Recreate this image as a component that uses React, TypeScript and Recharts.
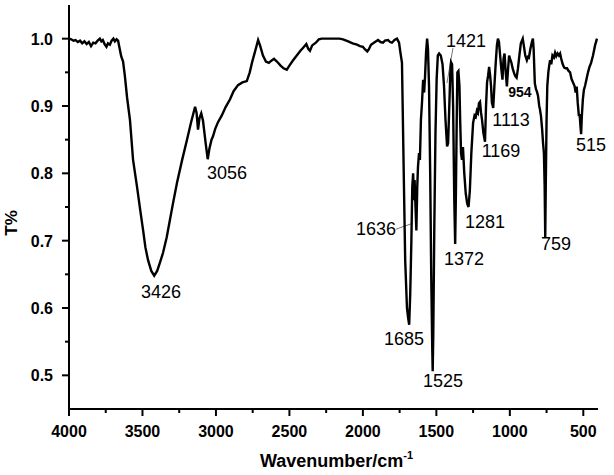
import { LineChart, Line, XAxis, YAxis, ReferenceDot, ReferenceLine, Label } from "recharts";

// FTIR spectrum: wavenumber (cm-1) and transmittance
const wavenumbers = [
  4000, 3985, 3970, 3955, 3940, 3925, 3910, 3895, 3880, 3865, 3850, 3835, 3820, 3805, 3790, 3780,
  3770, 3758, 3745, 3735, 3722, 3710, 3698, 3688, 3676, 3666, 3655, 3645, 3632, 3620, 3605, 3585,
  3564, 3537, 3515, 3496, 3480, 3462, 3440, 3420, 3400, 3380, 3360, 3335, 3313, 3290, 3265, 3230,
  3197, 3170, 3142, 3132, 3122, 3112, 3100, 3088, 3070, 3056, 3045, 3030, 3020, 3005, 2986, 2960,
  2935, 2904, 2880, 2850, 2820, 2790, 2770, 2755, 2735, 2713, 2700, 2680, 2660, 2640, 2625, 2605,
  2585, 2560, 2540, 2518, 2500, 2475, 2450, 2425, 2405, 2385, 2372, 2360, 2345, 2320, 2300, 2280,
  2240, 2200, 2160, 2135, 2100, 2070, 2040, 2020, 2000, 1985, 1970, 1960, 1945, 1925, 1897, 1880,
  1863, 1850, 1829, 1815, 1802, 1785, 1768, 1754, 1745, 1734, 1722, 1712, 1700, 1692, 1685, 1678,
  1670, 1664, 1658, 1652, 1648, 1642, 1636, 1630, 1625, 1618, 1612, 1605, 1598, 1590, 1583, 1577,
  1570, 1563, 1557, 1550, 1542, 1535, 1528, 1525, 1521, 1514, 1506, 1498, 1490, 1481, 1470, 1458,
  1448, 1438, 1427, 1420, 1412, 1405, 1400, 1393, 1386, 1378, 1372, 1367, 1362, 1357, 1350, 1343,
  1338, 1332, 1326, 1319, 1310, 1300, 1290, 1281, 1272, 1262, 1250, 1240, 1232, 1224, 1217, 1210,
  1203, 1196, 1189, 1180, 1169, 1162, 1155, 1148, 1141, 1134, 1128, 1122, 1113, 1105, 1096, 1088,
  1081, 1074, 1066, 1058, 1050, 1043, 1036, 1028, 1020, 1012, 1005, 998, 990, 980, 970, 962,
  954, 945, 935, 925, 912, 905, 895, 884, 876, 870, 860, 850, 843, 838, 830, 822, 815, 808, 800,
  795, 788, 780, 774, 768, 763, 759, 755, 750, 745, 738, 732, 726, 718, 710, 700, 692, 684, 675,
  666, 658, 650, 640, 630, 620, 611, 600, 590, 580, 570, 560, 552, 545, 538, 530, 525, 520, 515,
  510, 503, 496, 488, 478, 468, 458, 447, 434, 420, 407,
];

const transmittance = [
  1.0, 0.999, 0.997, 0.998, 0.995, 0.997, 0.993, 0.996, 0.992, 0.995, 0.989, 0.994, 0.993, 0.997, 1.0, 0.996,
  0.998, 0.992, 0.988, 0.993, 0.991, 0.997, 1.0, 0.996, 0.999, 0.997, 0.985, 0.974, 0.966, 0.945, 0.913, 0.879,
  0.82, 0.78, 0.745, 0.716, 0.69, 0.671, 0.655, 0.648, 0.655, 0.668, 0.682, 0.705, 0.731, 0.758, 0.786, 0.82,
  0.85, 0.875, 0.899, 0.89, 0.865, 0.882, 0.889, 0.878, 0.845, 0.821, 0.836, 0.85, 0.855, 0.866, 0.876, 0.886,
  0.898, 0.91, 0.922, 0.931, 0.935, 0.937, 0.95, 0.964, 0.98, 0.998, 0.99, 0.975, 0.966, 0.964, 0.967, 0.97,
  0.966, 0.96, 0.956, 0.954, 0.96, 0.968, 0.975, 0.982, 0.987, 0.992, 0.985, 0.982, 0.99, 0.994, 0.999, 1.0,
  1.0, 1.0, 1.0, 0.999, 0.996, 0.993, 0.991, 0.989, 0.988, 0.984, 0.981, 0.984, 0.991, 0.994, 0.998, 0.995,
  0.994, 0.997, 0.998, 0.995, 0.994, 0.998, 1.0, 0.994, 0.98, 0.964, 0.8, 0.67, 0.6, 0.585, 0.575, 0.62,
  0.7, 0.78, 0.8, 0.76, 0.79, 0.75, 0.715, 0.78, 0.81, 0.83, 0.82, 0.88, 0.904, 0.939, 0.92, 0.944,
  0.98, 1.0, 0.985, 0.93, 0.8, 0.65, 0.54, 0.506, 0.56, 0.72, 0.86, 0.94, 0.975, 0.978, 0.975, 0.962,
  0.93, 0.88, 0.84, 0.845, 0.9, 0.95, 0.965, 0.962, 0.9, 0.76, 0.695, 0.77, 0.87, 0.95, 0.952, 0.93,
  0.879, 0.83, 0.82, 0.839, 0.8, 0.77, 0.755, 0.75, 0.775, 0.83, 0.875, 0.886, 0.884, 0.893, 0.89, 0.904,
  0.906, 0.89, 0.879, 0.86, 0.847, 0.9, 0.935, 0.945, 0.958, 0.945, 0.93, 0.905, 0.897, 0.93, 0.964, 0.99,
  1.0, 0.995, 0.975, 0.955, 0.939, 0.97, 0.978, 0.95, 0.929, 0.955, 0.975, 0.97, 0.965, 0.955, 0.948, 0.944,
  0.942, 0.955, 0.975, 0.993, 1.0, 0.99, 0.975, 0.968, 0.973, 0.972, 0.985, 0.995, 1.0, 0.985, 0.934, 0.925, 0.921, 0.915, 0.9,
  0.895, 0.885, 0.865, 0.845, 0.83, 0.78, 0.705, 0.79, 0.88, 0.93, 0.95, 0.96, 0.968, 0.962, 0.975, 0.972, 0.979, 0.974, 0.978,
  0.975, 0.978, 0.97, 0.962, 0.957, 0.956, 0.956, 0.952, 0.95, 0.94, 0.935, 0.93, 0.92, 0.929, 0.905, 0.885, 0.888, 0.872, 0.858,
  0.885, 0.91, 0.924, 0.93, 0.94, 0.95, 0.958, 0.964, 0.975, 0.99, 1.0,
];

const xTicks = [4000, 3750, 3500, 3250, 3000, 2750, 2500, 2250, 2000, 1750, 1500, 1250, 1000, 750, 500];
const yTicks = [0.5, 0.55, 0.6, 0.65, 0.7, 0.75, 0.8, 0.85, 0.9, 0.95, 1.0];

// peak annotations: text and where it sits (wavenumber, T)
const peakLabels = [
  { text: "3426", wn: 3374, t: 0.615 },
  { text: "3056", wn: 2925, t: 0.792 },
  { text: "1421", wn: 1298, t: 0.988 },
  { text: "1636", wn: 1911, t: 0.708 },
  { text: "1685", wn: 1720, t: 0.545 },
  { text: "1525", wn: 1455, t: 0.483 },
  { text: "1372", wn: 1312, t: 0.664 },
  { text: "1281", wn: 1169, t: 0.719 },
  { text: "1169", wn: 1060, t: 0.824 },
  { text: "1113", wn: 992, t: 0.87 },
  { text: "954", wn: 931, t: 0.913, small: true },
  { text: "759", wn: 686, t: 0.686 },
  { text: "515", wn: 448, t: 0.833 },
];

const leaders = [
  [{ x: 1387, y: 0.986 }, { x: 1428, y: 0.934 }],
  [{ x: 1775, y: 0.717 }, { x: 1659, y: 0.726 }],
];

const data = wavenumbers.map((wn, i) => ({ wn, t: transmittance[i] }));

const FONT = "'Liberation Sans', Arial, sans-serif";

const XTick = ({ x, y, payload }: any) => {
  const major = payload.value % 500 === 0;
  return (
    <g>
      <line x1={x} x2={x} y1={y} y2={y + (major ? 7 : 4)} stroke="#000" strokeWidth={2} />
      {major && (
        <text x={x} y={y + 28} textAnchor="middle" fontFamily={FONT} fontWeight="bold" fontSize={16} fill="#000">
          {payload.value}
        </text>
      )}
    </g>
  );
};

const YTick = ({ x, y, payload }: any) => {
  const v = payload.value;
  const major = Math.abs(v * 10 - Math.round(v * 10)) < 1e-6;
  return (
    <g>
      <line x1={x - (major ? 7 : 4)} x2={x} y1={y} y2={y} stroke="#000" strokeWidth={2} />
      {major && (
        <text x={x - 16} y={y + 6} textAnchor="end" fontFamily={FONT} fontWeight="bold" fontSize={16} fill="#000">
          {v.toFixed(1)}
        </text>
      )}
    </g>
  );
};

const XTitle = ({ viewBox }: any) => (
  <text
    x={viewBox.x + viewBox.width / 2 + 3}
    y={viewBox.y + 58}
    textAnchor="middle"
    fontFamily={FONT}
    fontWeight="bold"
    fontSize={18}
    fill="#000"
  >
    Wavenumber/cm
    <tspan dy={-8} fontSize={11}>-1</tspan>
  </text>
);

const YTitle = ({ viewBox }: any) => {
  const cx = 17;
  const cy = viewBox.y + viewBox.height / 2 + 16;
  return (
    <text
      x={cx}
      y={cy}
      transform={`rotate(-90 ${cx} ${cy})`}
      textAnchor="middle"
      fontFamily={FONT}
      fontWeight="bold"
      fontSize={17}
      fill="#000"
    >
      T%
    </text>
  );
};

const PeakText = (props: any) => {
  const { cx, cy, text, small } = props;
  return (
    <text
      x={cx}
      y={cy}
      textAnchor="middle"
      fontFamily={FONT}
      fontSize={small ? 14 : 18}
      fontWeight={small ? "bold" : "normal"}
      fill="#000"
    >
      {text}
    </text>
  );
};

export default function App() {
  return (
    <div style={{ position: "absolute", left: 0, top: 0, background: "#fff" }}>
      <LineChart width={614} height={475} data={data} margin={{ top: 5, right: 16, left: 0, bottom: 0 }}>
        <XAxis
          dataKey="wn"
          type="number"
          domain={[400, 4000]}
          reversed
          ticks={xTicks}
          interval={0}
          tick={<XTick />}
          tickLine={false}
          tickSize={0}
          tickMargin={0}
          axisLine={{ stroke: "#000", strokeWidth: 2 }}
          height={66}
          allowDataOverflow
        >
          <Label content={<XTitle />} />
        </XAxis>
        <YAxis
          type="number"
          domain={[0.45, 1.05]}
          ticks={yTicks}
          interval={0}
          tick={<YTick />}
          tickLine={false}
          tickSize={0}
          tickMargin={0}
          axisLine={{ stroke: "#000", strokeWidth: 2 }}
          width={69}
          allowDataOverflow
        >
          <Label content={<YTitle />} />
        </YAxis>
        {leaders.map((seg, i) => (
          <ReferenceLine key={"l" + i} segment={seg} stroke="#777" strokeWidth={1} ifOverflow="visible" />
        ))}
        <Line
          type="linear"
          dataKey="t"
          stroke="#000"
          strokeWidth={2.4}
          dot={false}
          isAnimationActive={false}
        />
        {peakLabels.map((p) => (
          <ReferenceDot
            key={p.text}
            x={p.wn}
            y={p.t}
            r={0}
            ifOverflow="visible"
            shape={(s: any) => <PeakText {...s} text={p.text} small={p.small} />}
          />
        ))}
      </LineChart>
    </div>
  );
}
